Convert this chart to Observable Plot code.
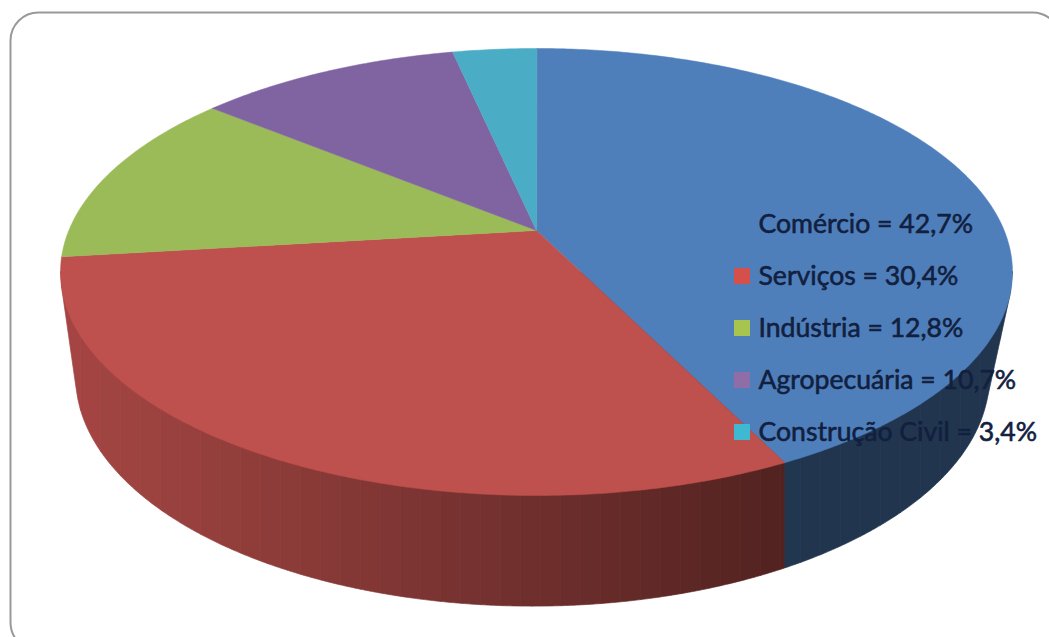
<!DOCTYPE html>
<html lang="pt">
<head>
<meta charset="utf-8">
<script src="https://cdn.jsdelivr.net/npm/d3@7"></script>
<script src="https://cdn.jsdelivr.net/npm/@observablehq/plot@0.6"></script>
<style>
  html, body { margin: 0; padding: 0; background: #fff; overflow: hidden; }
</style>
</head>
<body>
<div id="chart"></div>
<script>
// Participação dos setores, em %
const setores = ["Comércio", "Serviços", "Indústria", "Agropecuária", "Construção Civil"];
const valores = [42.7, 30.4, 12.8, 10.7, 3.4];
const rotulos = ["Comércio = 42,7%", "Serviços = 30,4%", "Indústria = 12,8%", "Agropecuária = 10,7%", "Construção Civil = 3,4%"];
const cores = ["#4f7fbb", "#be504d", "#9bbb59", "#8064a2", "#4bacc6"];
const coresLegenda = ["#4f7fbb", "#d5504a", "#a6c44e", "#8f6ea8", "#3fb8d2"];

const W = 1049, H = 637;

// Perspective applied to the disc: the far edge shrinks, the near edge grows.
const persp = 0.1857;
const topo = {cx: 536, cy: 230, a: 467.7, b: 215.8};
const base = {cx: 532, cy: 333, a: 449, b: 222};

function projeta(t, p) {
  const X = Math.sin(t), Y = Math.cos(t), w = 1 + persp * Y;
  return [p.cx + p.a * X / w, p.cy - p.b * Y / w];
}

// Slice limits, clockwise from twelve o'clock
const total = d3.sum(valores);
let acum = 0;
const fatias = valores.map((v, i) => {
  const t0 = acum / total * 2 * Math.PI;
  acum += v;
  return {i, t0, t1: acum / total * 2 * Math.PI};
});

function passos(t0, t1, n) {
  return d3.range(n + 1).map(k => t0 + (t1 - t0) * k / n);
}

// Top surface: one closed polygon per slice
const topoPts = fatias.flatMap(f => {
  const n = Math.ceil((f.t1 - f.t0) / 0.01);
  const arco = passos(f.t0, f.t1, n).map(t => projeta(t, topo));
  return [[topo.cx, topo.cy], ...arco].map(([x, y]) => ({x, y, z: f.i, c: cores[f.i]}));
});

// Outline of the whole solid, used as the lower edge of the wall
const volta = passos(0, 2 * Math.PI, 720);
const casco = d3.polygonHull([...volta.map(t => projeta(t, topo)), ...volta.map(t => projeta(t, base))]);
const xMin = d3.min(casco, d => d[0]), xMax = d3.max(casco, d => d[0]);

function yInferior(x) {
  let y = -Infinity;
  casco.forEach((p, i) => {
    const q = casco[(i + 1) % casco.length];
    if ((p[0] - x) * (q[0] - x) <= 0 && p[0] !== q[0]) {
      y = Math.max(y, p[1] + (q[1] - p[1]) * (x - p[0]) / (q[0] - p[0]));
    }
  });
  return y;
}

// Which slice owns the front wall at a given horizontal position
const frente = passos(Math.PI / 2, 3 * Math.PI / 2, 720).map(t => ({t, x: projeta(t, topo)[0]}));
function fatiaEm(x) {
  const t = d3.least(frente, d => Math.abs(d.x - x)).t;
  return fatias.find(f => f.t1 >= t) || fatias[fatias.length - 1];
}
const divisas = fatias.map(f => projeta(f.t1, topo))
  .filter((p, i) => Math.cos(fatias[i].t1) < 0)
  .map(p => p[0]);

// Wall lit from the left, in narrow vertical bands
function luz(x) {
  return Math.max(0.42, Math.min(0.87, 0.85 - (x - 100) / 680 * 0.42));
}
function escurece(c, k) {
  const r = d3.rgb(c);
  return d3.rgb(r.r * k, r.g * k, r.b * k).formatHex();
}

const cortes = [...new Set([...d3.range(xMin, xMax, 20), xMax, ...divisas])].sort(d3.ascending);
const yOculto = 272;  // runs under the top surface
const paredePts = d3.pairs(cortes).flatMap(([x0, x1], k) => {
  const xm = (x0 + x1) / 2;
  const f = fatiaEm(xm);
  const c = escurece(cores[f.i], luz(xm));
  const amostra = [...d3.range(x0, x1, 2), x1];
  const contorno = [[x0, yOculto], ...amostra.map(x => [x, yInferior(x)]), [x1, yOculto]];
  return contorno.map(([x, y]) => ({x, y, z: k, c}));
});

// Legend rows sit over the pie
const legenda = setores.map((s, i) => ({
  x: 758, xm: 741.5, y: 223.5 + i * 52, rotulo: rotulos[i], cor: coresLegenda[i]
}));

const grafico = Plot.plot({
  width: W,
  height: H,
  margin: 0,
  x: {domain: [0, W], range: [0, W], axis: null},
  y: {domain: [0, H], range: [0, H], axis: null},
  marks: [
    Plot.frame({rx: 28, stroke: "#999", strokeWidth: 2, fill: "none",
      insetLeft: 10, insetTop: 12, insetRight: -11, insetBottom: -13}),
    Plot.line(paredePts, {x: "x", y: "y", z: "z", fill: "c", stroke: "c", strokeWidth: 0.7, curve: "linear-closed"}),
    Plot.line(topoPts, {x: "x", y: "y", z: "z", fill: "c", stroke: "c", strokeWidth: 0.5, curve: "linear-closed"}),
    Plot.dot(legenda, {x: "xm", y: "y", symbol: "square", r: 9, fill: "cor", stroke: "none"}),
    Plot.text(legenda, {x: "x", y: "y", text: "rotulo", textAnchor: "start", fill: "#12203f",
      stroke: "#12203f", strokeWidth: 0.6,
      fontFamily: "Lato", fontSize: 26.6})
  ]
});
document.getElementById("chart").append(grafico);
</script>
</body>
</html>
